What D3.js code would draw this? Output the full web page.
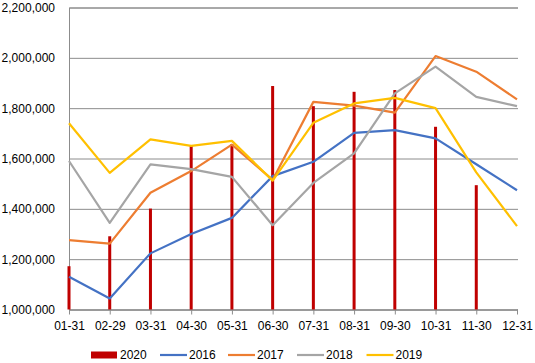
<!DOCTYPE html>
<html>
<head>
<meta charset="utf-8">
<script src="https://cdnjs.cloudflare.com/ajax/libs/d3/7.8.5/d3.min.js"></script>
<style>
  html, body { margin: 0; padding: 0; background: #fff; }
  svg { display: block; font-family: 'Liberation Sans', Arial, sans-serif; }
</style>
</head>
<body>
<div id="chart"></div>
<script>
// categories (month ends)
const months = ['01-31', '02-29', '03-31', '04-30', '05-31', '06-30',
                '07-31', '08-31', '09-30', '10-31', '11-30', '12-31'];

// 2020 bars (no December value)
const v2020 = [1172000, 1291000, 1401000, 1650000, 1657000, 1888000,
               1808000, 1865000, 1872000, 1726000, 1494000, null];

// line series
const v2016 = [1130000, 1044000, 1223000, 1300000, 1364000, 1530000,
               1587000, 1702000, 1713000, 1680000, 1577000, 1474000];
const v2017 = [1276000, 1262000, 1464000, 1550000, 1655000, 1515000,
               1825000, 1810000, 1782000, 2007000, 1945000, 1835000];
const v2018 = [1590000, 1344000, 1577000, 1558000, 1527000, 1335000,
               1503000, 1620000, 1859000, 1965000, 1845000, 1808000];
const v2019 = [1740000, 1543000, 1676000, 1650000, 1670000, 1512000,
               1742000, 1819000, 1841000, 1800000, 1545000, 1331000];

const yTicks = [1000000, 1200000, 1400000, 1600000, 1800000, 2000000, 2200000];

const lineSeries = [
  { name: '2016', values: v2016, color: '#4472C4' },
  { name: '2017', values: v2017, color: '#ED7D31' },
  { name: '2018', values: v2018, color: '#A5A5A5' },
  { name: '2019', values: v2019, color: '#FFC000' }
];
const barColor = '#C00000';

// ─────────────────────────────────────────────
const W = 535, H = 363;
const mLeft = 69, mRight = 517, mTop = 7.5, mBottom = 309.5;
const FONT = 12;

const svg = d3.select('#chart').append('svg')
  .attr('width', W).attr('height', H);

const x = d3.scalePoint().domain(months).range([mLeft, mRight]);
const y = d3.scaleLinear().domain([1000000, 2200000]).range([mBottom, mTop]);

// grille + axe vertical
const gy = svg.append('g')
  .attr('transform', `translate(${mLeft},0)`)
  .call(d3.axisLeft(y).tickValues(yTicks).tickFormat(d3.format(','))
    .tickSize(-(mRight - mLeft + 1)).tickPadding(14));
gy.select('.domain').attr('stroke', '#8c8c8c');
gy.selectAll('.tick line').attr('stroke', '#8c8c8c');
gy.selectAll('.tick text')
  .attr('font-size', FONT).attr('fill', '#000')
  .attr('font-family', "'Liberation Sans', Arial, sans-serif");

// axe horizontal
const gx = svg.append('g')
  .attr('transform', `translate(0,${mBottom})`)
  .call(d3.axisBottom(x).tickSize(5).tickPadding(7));
gx.select('.domain').attr('d', `M${mLeft},0.5H${mRight + 1}`).attr('stroke', '#8c8c8c');
gx.selectAll('.tick line').attr('stroke', '#8c8c8c');
gx.selectAll('.tick text')
  .attr('font-size', FONT).attr('fill', '#000')
  .attr('font-family', "'Liberation Sans', Arial, sans-serif");

// barres 2020
svg.append('g').selectAll('rect')
  .data(months.map((m, i) => ({ m, v: v2020[i] })).filter(d => d.v != null))
  .enter().append('rect')
  .attr('x', d => x(d.m) - 1.5)
  .attr('width', 3)
  .attr('y', d => y(d.v))
  .attr('height', d => y(1000000) - y(d.v))
  .attr('fill', barColor);

// lignes
const line = d3.line()
  .x((d, i) => x(months[i]))
  .y(d => y(d));

svg.append('g').selectAll('path')
  .data(lineSeries)
  .enter().append('path')
  .attr('d', d => line(d.values))
  .attr('fill', 'none')
  .attr('stroke', d => d.color)
  .attr('stroke-width', 2.2)
  .attr('stroke-linejoin', 'round');

// légende
const legendItems = [{ name: '2020', color: barColor, bar: true }].concat(lineSeries);
const legX = [91, 160, 228, 297, 366.5];
const legY = 355;
const lg = svg.append('g');
legendItems.forEach((d, i) => {
  const g = lg.append('g').attr('transform', `translate(${legX[i]},${legY})`);
  if (d.bar) {
    g.append('rect').attr('x', 0).attr('y', -3.5).attr('width', 26).attr('height', 7).attr('fill', d.color);
  } else {
    g.append('line').attr('x1', 0).attr('x2', 27).attr('y1', 0).attr('y2', 0)
      .attr('stroke', d.color).attr('stroke-width', 2.2);
  }
  g.append('text')
    .attr('x', 29).attr('y', 4)
    .attr('font-size', FONT)
    .text(d.name);
});
</script>
</body>
</html>
